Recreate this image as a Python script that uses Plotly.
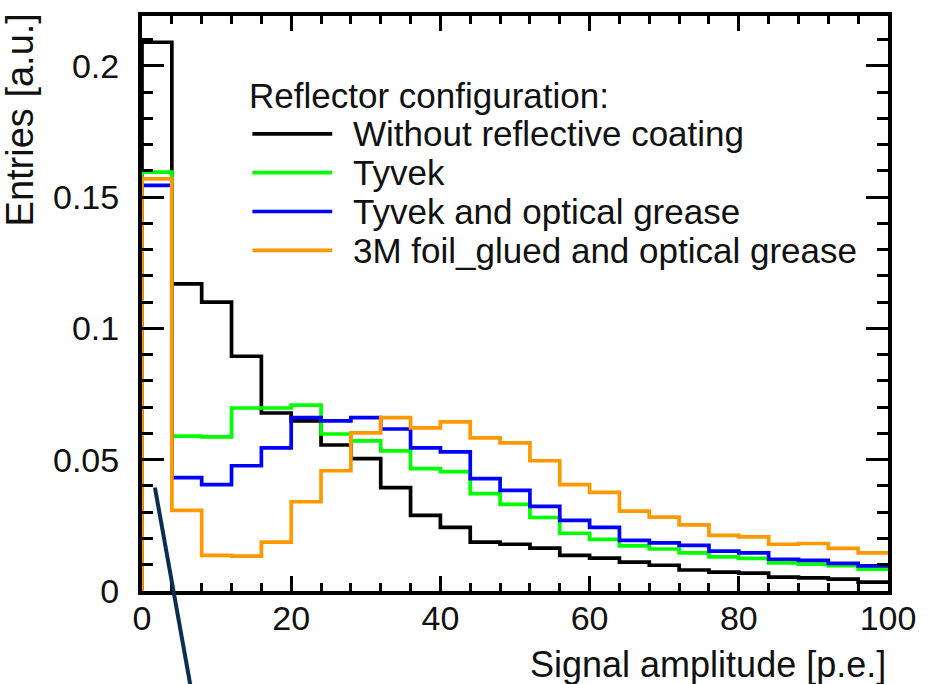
import numpy as np
import plotly.graph_objects as go

# ---- data ----
bin_edges = list(range(0, 101, 4))  # 25 bins of 4 p.e.
series_names = [
    "Without reflective coating",
    "Tyvek",
    "Tyvek and optical grease",
    "3M foil_glued and optical grease",
]
series_colors = ["#000000", "#00ff00", "#0000ff", "#ff9900"]

no_coating = [0.209, 0.117, 0.110, 0.0894, 0.0678, 0.0648, 0.0556, 0.0504, 0.0394, 0.0288,
              0.0242, 0.0186, 0.0178, 0.0163, 0.0136, 0.0125, 0.0110, 0.0098, 0.0080, 0.0072,
              0.0068, 0.0053, 0.0050, 0.0045, 0.0034]
tyvek = [0.1595, 0.0590, 0.0587, 0.0697, 0.0697, 0.0708, 0.0598, 0.0572, 0.0534, 0.0466,
         0.0455, 0.0371, 0.0330, 0.0280, 0.0220, 0.0197, 0.0172, 0.0160, 0.0145, 0.0130,
         0.0124, 0.0107, 0.0102, 0.0097, 0.0083]
tyvek_grease = [0.1545, 0.0432, 0.0405, 0.0477, 0.0545, 0.0660, 0.0648, 0.0660, 0.0617, 0.0545,
                0.0530, 0.0428, 0.0383, 0.0322, 0.0269, 0.0242, 0.0193, 0.0183, 0.0174, 0.0152,
                0.0145, 0.0121, 0.0117, 0.0105, 0.0096]
foil_grease = [0.157, 0.0307, 0.0136, 0.0133, 0.0186, 0.0340, 0.0458, 0.0602, 0.0660, 0.0621,
               0.0644, 0.0583, 0.0564, 0.0496, 0.0405, 0.0376, 0.0304, 0.0281, 0.0252, 0.0212,
               0.0206, 0.0178, 0.0181, 0.0162, 0.0145]
all_series = [no_coating, tyvek, tyvek_grease, foil_grease]

x_title = "Signal amplitude [p.e.]"
y_title = "Entries [a.u.]"
legend_header = "Reflector configuration:"

FONT = "Liberation Sans, Arial, Helvetica, sans-serif"
TXT = "#111111"

fig = go.Figure()
for name, vals, col in zip(series_names, all_series, series_colors):
    xs = [bin_edges[0]] + bin_edges
    ys = [0] + list(vals) + [vals[-1]]
    fig.add_trace(go.Scatter(
        x=xs, y=ys, mode="lines", name=name,
        line=dict(color=col, width=3.7, shape="hv"),
        showlegend=False, hoverinfo="skip",
    ))

axis_common = dict(
    showline=True, linecolor="black", linewidth=4, mirror="ticks",
    ticks="inside", tickcolor="black", tickwidth=3,
    showgrid=False, zeroline=False,
    tickfont=dict(family=FONT, size=34, color=TXT),
)
fig.update_xaxes(range=[0, 100], dtick=20, tick0=0, ticklen=15,
                 minor=dict(dtick=4, ticklen=8, tickwidth=3, ticks="inside", tickcolor="black"),
                 ticklabelstandoff=-6, **axis_common)
fig.update_yaxes(range=[0, 0.219], dtick=0.05, tick0=0, ticklen=22,
                 minor=dict(dtick=0.01, ticklen=11, tickwidth=3, ticks="inside", tickcolor="black"),
                 ticklabelstandoff=12, **axis_common)

annotations = [
    dict(text=x_title, xref="paper", yref="paper", x=1.0, y=-0.088, xanchor="right", yanchor="top",
         showarrow=False, font=dict(family=FONT, size=36, color=TXT)),
    dict(text=y_title, xref="paper", yref="paper", x=-0.195, y=1.008, xanchor="left", yanchor="top",
         textangle=-90, showarrow=False, font=dict(family=FONT, size=38, color=TXT)),
    dict(text=legend_header, xref="paper", yref="paper", x=0.141, y=0.862, xanchor="left",
         yanchor="middle", showarrow=False, font=dict(family=FONT, size=35, color=TXT)),
]
shapes = []
leg_y0 = 0.795
leg_dy = 0.0675
for i, (name, col) in enumerate(zip(series_names, series_colors)):
    yy = leg_y0 - i * leg_dy
    annotations.append(dict(text=name, xref="paper", yref="paper", x=0.28, y=yy, xanchor="left",
                            yanchor="middle", showarrow=False,
                            font=dict(family=FONT, size=35, color=TXT)))
    shapes.append(dict(type="line", xref="paper", yref="paper", x0=0.148, x1=0.255, y0=yy, y1=yy,
                       line=dict(color=col, width=3.7)))

# dark pointer line crossing the lower-left corner
shapes.append(dict(type="line", xref="paper", yref="paper", x0=0.0173, y0=0.18, x1=0.065, y1=-0.165,
                   line=dict(color="#0b2d52", width=4)))

fig.update_layout(
    width=928, height=684,
    margin=dict(l=142, r=35, t=13, b=93),
    paper_bgcolor="white", plot_bgcolor="white",
    annotations=annotations, shapes=shapes,
    showlegend=False,
)
fig.write_html("out.html")
